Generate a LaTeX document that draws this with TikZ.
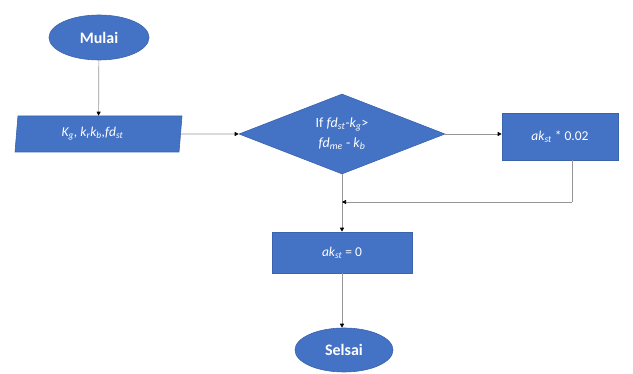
\documentclass[tikz,border=0pt]{standalone}
\usepackage{fontspec}
\setmainfont{Carlito}
\usetikzlibrary{shapes.geometric,arrows.meta}
\definecolor{boxblue}{HTML}{4472C4}
\definecolor{boxedge}{HTML}{3A63AE}
\definecolor{linegray}{HTML}{959595}
\newcommand{\sbs}[1]{\textsubscript{#1}}
\tikzset{
  shp/.style={fill=boxblue,draw=boxedge,line width=0.6pt,text=white,inner sep=1pt},
  term/.style={shp,ellipse,minimum width=100pt,minimum height=45pt,font=\fontsize{16}{18}\selectfont\bfseries},
  proc/.style={shp,rectangle,font=\fontsize{13.5}{15}\selectfont},
  io/.style={shp,trapezium,trapezium left angle=79,trapezium right angle=101,trapezium stretches body,minimum width=167pt,minimum height=36pt,font=\fontsize{13.5}{15}\selectfont},
  dec/.style={shp,diamond,aspect=2.6,minimum width=206pt,minimum height=80pt,inner sep=0pt,align=center,font=\fontsize{14}{20}\selectfont},
  conn/.style={draw=linegray,line width=0.7pt,-{Triangle[color=black,length=4pt,width=4pt]}},
  plain/.style={draw=linegray,line width=0.7pt}
}
\begin{document}
\begin{tikzpicture}[x=1pt,y=-1pt]
\useasboundingbox (0,0) rectangle (633,374);
\node[term] (start) at (99,37.5) {Mulai};
\node[io] (inp) at (98.5,134) {\hspace*{-12pt}\itshape K\sbs{g}, k\sbs{r}k\sbs{b},fd\sbs{st}};
\node[dec] (dec) at (342,134) {If \textit{fd\sbs{st}-k\sbs{g}}>\\ \textit{fd\sbs{me}} - \textit{k\sbs{b}}};
\node[proc,minimum width=116pt,minimum height=47pt] (mul) at (560,136.5) {\textit{ak\sbs{st}} * 0.02};
\node[proc,minimum width=140pt,minimum height=41pt] (zero) at (342,252.5) {\textit{ak\sbs{st}} = 0};
\node[term,minimum width=98pt,minimum height=44pt] (end) at (344,350) {Selsai};
\coordinate (mulout) at (572,160);
\coordinate (join) at (342,202);
\draw[conn] (start) -- (inp);
\draw[conn] (inp.east) -- (dec.west);
\draw[conn] (dec.east) -- (dec.east -| mul.west);
\draw[conn] (dec.south) -- (zero.north);
\draw[plain] (mulout) -- (mulout |- join);
\draw[conn] (mulout |- join) -- (join);
\draw[conn] (zero.south) -- (zero.south |- end.north);
\end{tikzpicture}
\end{document}
